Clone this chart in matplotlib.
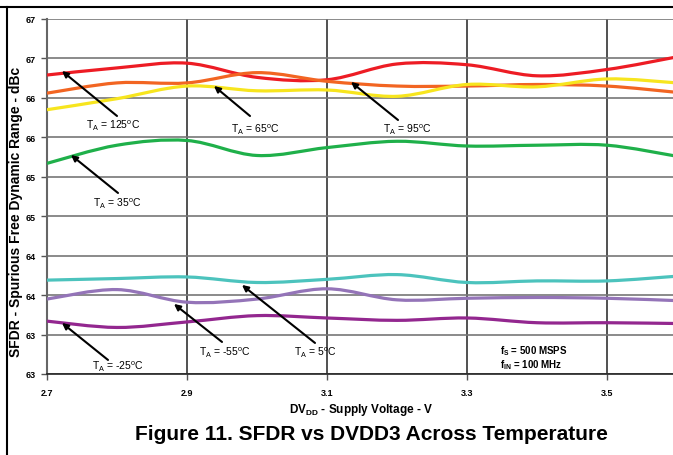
import numpy as np
import matplotlib
matplotlib.use('Agg')
import matplotlib.pyplot as plt
from matplotlib.path import Path
from matplotlib.patches import PathPatch

plt.rcParams['font.family'] = ['Liberation Sans', 'DejaVu Sans']
plt.rcParams['mathtext.fontset'] = 'custom'
plt.rcParams['mathtext.rm'] = 'Liberation Sans'
plt.rcParams['mathtext.it'] = 'Liberation Sans:italic'
plt.rcParams['mathtext.bf'] = 'Liberation Sans:bold'

# supply voltage (V)
dvdd = [2.7, 2.8, 2.9, 3.0, 3.1, 3.2, 3.3, 3.4, 3.5, 3.6]

# SFDR (dBc) per temperature
sfdr_125 = [66.29, 66.38, 66.44, 66.26, 66.23, 66.43, 66.42, 66.28, 66.36, 66.52]
sfdr_65 = [66.06, 66.19, 66.19, 66.32, 66.21, 66.15, 66.15, 66.17, 66.15, 66.07]
sfdr_95 = [65.85, 65.99, 66.15, 66.09, 66.10, 66.02, 66.17, 66.14, 66.24, 66.19]
sfdr_35 = [65.17, 65.40, 65.46, 65.27, 65.37, 65.45, 65.39, 65.40, 65.40, 65.26]
sfdr_5 = [63.69, 63.71, 63.73, 63.66, 63.70, 63.76, 63.66, 63.68, 63.68, 63.74]
sfdr_m55 = [63.45, 63.57, 63.41, 63.45, 63.58, 63.44, 63.46, 63.47, 63.46, 63.43]
sfdr_m25 = [63.17, 63.09, 63.16, 63.24, 63.21, 63.18, 63.21, 63.15, 63.15, 63.14]

yticks = [62.5, 63, 63.5, 64, 64.5, 65, 65.5, 66, 66.5, 67]
ytick_labels = ['63', '63', '64', '64', '65', '65', '66', '66', '67', '67']
xticks = [2.7, 2.9, 3.1, 3.3, 3.5]
xtick_labels = ['2.7', '2.9', '3.1', '3.3', '3.5']

series = [
    (sfdr_125, '#ed1c24'),
    (sfdr_65, '#f26522'),
    (sfdr_95, '#f7e51e'),
    (sfdr_35, '#1fb04a'),
    (sfdr_5, '#4cc3bd'),
    (sfdr_m55, '#9474b8'),
    (sfdr_m25, '#93278f'),
]


def smooth_path(x, y):
    # Excel-like smoothed line: Catmull-Rom segments as cubic Beziers
    p = np.column_stack([x, y])
    verts = [p[0]]
    codes = [Path.MOVETO]
    n = len(p)
    for i in range(n - 1):
        p0 = p[max(i - 1, 0)]
        p1 = p[i]
        p2 = p[i + 1]
        p3 = p[min(i + 2, n - 1)]
        verts += [p1 + (p2 - p0) / 6, p2 - (p3 - p1) / 6, p2]
        codes += [Path.CURVE4] * 3
    return Path(verts, codes)


fig = plt.figure(figsize=(6.73, 4.56), dpi=100)
ax = fig.add_axes([47 / 673, 1 - 375 / 456, 630 / 673, 355 / 456])

for vals, col in series:
    ax.add_patch(PathPatch(smooth_path(dvdd, vals), facecolor='none',
                           edgecolor=col, lw=2.3, capstyle='butt', zorder=3))

ax.set_xlim(2.7, 3.6)
ax.set_ylim(62.5, 67)
ax.set_yticks(yticks)
ax.set_yticklabels(ytick_labels, fontweight='bold', fontsize=6.5)
ax.set_xticks(xticks)
ax.set_xticklabels(xtick_labels, fontweight='bold', fontsize=6.5)
ax.tick_params(axis='both', direction='out', length=4, width=1, color='#555555', pad=4)
ax.tick_params(axis='x', pad=6)
ax.grid(axis='y', color='#777777', lw=1.2, zorder=1)
ax.grid(axis='x', color='#333333', lw=1.2, zorder=1)
for s in ['top', 'right']:
    ax.spines[s].set_visible(False)
ax.spines['left'].set_color('#666666')
ax.spines['left'].set_linewidth(1.5)
ax.spines['bottom'].set_color('#222222')
ax.spines['bottom'].set_linewidth(1.2)

ax.set_xlabel(r'DV$_{\mathbf{DD}}$ - Supply Voltage - V', fontweight='bold', fontsize=8.5)
ax.set_ylabel('SFDR - Spurious Free Dynamic Range - dBc', fontweight='bold', fontsize=10)
ax.yaxis.set_label_coords(-24 / 630, (375 - 212) / 355)
ax.xaxis.set_label_coords((361 - 47) / 630, -27 / 355)


def px(x, y):
    return 2.7 + (x - 47) / 700, 67 - (y - 20) / 78.9


labels = [
    ('T$_{\\mathrm{A}}$ = 125$^{\\mathrm{o}}$C', (113, 126), (117, 117), (62, 72)),
    ('T$_{\\mathrm{A}}$ = 65$^{\\mathrm{o}}$C', (255, 130), (250, 117), (214, 87)),
    ('T$_{\\mathrm{A}}$ = 35$^{\\mathrm{o}}$C', (117, 204), (118, 194), (71, 156)),
    ('T$_{\\mathrm{A}}$ = 95$^{\\mathrm{o}}$C', (407, 130), (398, 121), (351, 83)),
    ('T$_{\\mathrm{A}}$ = -25$^{\\mathrm{o}}$C', (118, 367), (108, 361), (62, 324)),
    ('T$_{\\mathrm{A}}$ = -55$^{\\mathrm{o}}$C', (225, 353), (222, 343), (174, 305)),
    ('T$_{\\mathrm{A}}$ = 5$^{\\mathrm{o}}$C', (315, 353), (315, 344), (242, 286)),
]
for txt, tpos, tail, head in labels:
    ax.text(*px(*tpos), txt, ha='center', va='center', fontsize=7.5, zorder=5)
    ax.annotate('', xy=px(*head), xytext=px(*tail),
                arrowprops=dict(arrowstyle='-|>', color='black', lw=1.5,
                                mutation_scale=9, shrinkA=0, shrinkB=0), zorder=5)

ax.text(*px(500, 351), r'f$_{\mathbf{S}}$ = 500 MSPS', ha='left', va='center',
        fontsize=7, fontweight='bold', zorder=5)
ax.text(*px(500, 365), r'f$_{\mathbf{IN}}$ = 100 MHz', ha='left', va='center',
        fontsize=7, fontweight='bold', zorder=5)

fig.text(371 / 673, 1 - 435 / 456, 'Figure 11. SFDR vs DVDD3 Across Temperature',
         ha='center', va='center', fontsize=15, fontweight='bold')

# page frame lines
fig.add_artist(plt.Line2D([0, 1], [1 - 8 / 456, 1 - 8 / 456], color='black', lw=1.5,
                          transform=fig.transFigure))
fig.add_artist(plt.Line2D([7 / 673, 7 / 673], [0, 1 - 8 / 456], color='black', lw=1.5,
                          transform=fig.transFigure))

fig.savefig('out.png', dpi=100)
